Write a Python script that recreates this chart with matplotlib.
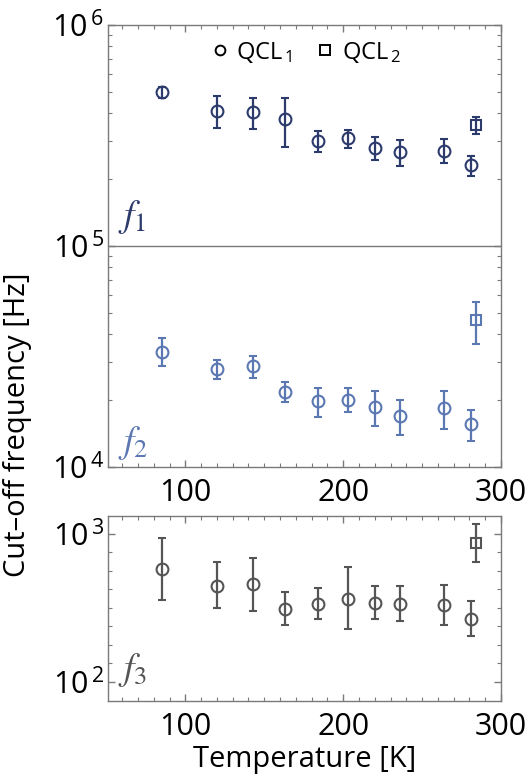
import numpy as np
import matplotlib
matplotlib.use("Agg")
import matplotlib.pyplot as plt
from matplotlib.ticker import FixedLocator, MultipleLocator, LogLocator, FuncFormatter, NullFormatter
from matplotlib.lines import Line2D

plt.rcParams['font.family'] = ['Open Sans', 'DejaVu Sans']
plt.rcParams['mathtext.fontset'] = 'custom'
plt.rcParams['mathtext.rm'] = 'Open Sans'
plt.rcParams['mathtext.it'] = 'Open Sans:italic'
plt.rcParams['mathtext.bf'] = 'Open Sans:bold'

# ---- data ----
T_qcl1 = [85, 120, 143, 163, 184, 203, 220, 236, 264, 281]
T_qcl2 = [284]

f1_qcl1 = [4.95e5, 4.08e5, 4.05e5, 3.74e5, 2.99e5, 3.07e5, 2.77e5, 2.67e5, 2.70e5, 2.33e5]
f1_qcl1_hi = [5.26e5, 4.79e5, 4.69e5, 4.69e5, 3.33e5, 3.35e5, 3.10e5, 3.02e5, 3.05e5, 2.56e5]
f1_qcl1_lo = [4.65e5, 3.41e5, 3.38e5, 2.81e5, 2.66e5, 2.77e5, 2.45e5, 2.31e5, 2.37e5, 2.08e5]
f1_qcl2 = [3.52e5]
f1_qcl2_hi = [3.82e5]
f1_qcl2_lo = [3.20e5]

f2_qcl1 = [3.33e4, 2.77e4, 2.86e4, 2.19e4, 1.98e4, 2.02e4, 1.87e4, 1.71e4, 1.85e4, 1.57e4]
f2_qcl1_hi = [3.82e4, 3.05e4, 3.19e4, 2.43e4, 2.27e4, 2.27e4, 2.21e4, 2.02e4, 2.21e4, 1.82e4]
f2_qcl1_lo = [2.87e4, 2.49e4, 2.54e4, 1.96e4, 1.68e4, 1.77e4, 1.54e4, 1.40e4, 1.48e4, 1.31e4]
f2_qcl2 = [4.62e4]
f2_qcl2_hi = [5.60e4]
f2_qcl2_lo = [3.59e4]

f3_qcl1 = [578, 445, 457, 312, 337, 361, 339, 337, 329, 267]
f3_qcl1_hi = [940, 649, 687, 401, 431, 593, 441, 441, 450, 351]
f3_qcl1_lo = [357, 314, 301, 241, 264, 226, 264, 257, 241, 205]
f3_qcl2 = [865]
f3_qcl2_hi = [1157]
f3_qcl2_lo = [642]

x_ticks = [100, 200, 300]

c1 = '#2c3a6c'
c2 = '#5b78b2'
c3 = '#555555'
frame = '#7a7a7a'

W, H = 527, 778
fig = plt.figure(figsize=(W/100, H/100), dpi=100)

L, R = 108, 501
ax1 = fig.add_axes([L/W, 1-467/H, (R-L)/W, (467-25)/H])
ax2 = fig.add_axes([L/W, 1-701/H, (R-L)/W, (701-516)/H])

def eb(ax, x, y, hi, lo, color, marker):
    y = np.array(y); hi = np.array(hi); lo = np.array(lo)
    ax.errorbar(x, y, yerr=[y-lo, hi-y], fmt=marker, mfc='none', mec=color,
                ecolor=color, color=color, ms=8.5 if marker == 'o' else 7, mew=1.5,
                elinewidth=1.6, capsize=3, capthick=1.6)

eb(ax1, T_qcl1, f1_qcl1, f1_qcl1_hi, f1_qcl1_lo, c1, 'o')
eb(ax1, T_qcl2, f1_qcl2, f1_qcl2_hi, f1_qcl2_lo, c1, 's')
eb(ax1, T_qcl1, f2_qcl1, f2_qcl1_hi, f2_qcl1_lo, c2, 'o')
eb(ax1, T_qcl2, f2_qcl2, f2_qcl2_hi, f2_qcl2_lo, c2, 's')
eb(ax2, T_qcl1, f3_qcl1, f3_qcl1_hi, f3_qcl1_lo, c3, 'o')
eb(ax2, T_qcl2, f3_qcl2, f3_qcl2_hi, f3_qcl2_lo, c3, 's')

ax1.axhline(1e5, color=frame, lw=1.0)

def powfmt(v, pos):
    e = int(round(np.log10(v)))
    return r'$10^{\,%d}$' % e

for ax in (ax1, ax2):
    ax.set_yscale('log')
    ax.set_xlim(51, 300)
    ax.xaxis.set_major_locator(FixedLocator(x_ticks))
    ax.xaxis.set_minor_locator(MultipleLocator(10))
    for s in ax.spines.values():
        s.set_color(frame)
        s.set_linewidth(1.0)
    ax.tick_params(which='both', direction='in', top=True, right=True, color=frame)
    ax.tick_params(which='major', length=5, width=1.0, labelsize=22)
    ax.tick_params(which='minor', length=3, width=0.8)
    ax.tick_params(axis='x', which='major', pad=8)
    ax.tick_params(axis='y', which='major', pad=3)

ax1.set_ylim(1e4, 1e6)
ax1.yaxis.set_major_locator(FixedLocator([1e4, 1e5, 1e6]))
ax1.yaxis.set_minor_locator(LogLocator(base=10, subs=np.arange(2, 10)))
ax1.yaxis.set_minor_formatter(NullFormatter())
ax1.yaxis.set_major_formatter(FuncFormatter(powfmt))

ax2.set_ylim(10**1.87, 10**3.12)
ax2.yaxis.set_major_locator(FixedLocator([1e2, 1e3]))
ax2.yaxis.set_minor_locator(FixedLocator([10**(2 + k/8) for k in range(1, 8)]))
ax2.yaxis.set_minor_formatter(NullFormatter())
ax2.yaxis.set_major_formatter(FuncFormatter(powfmt))

# panel labels
ax1.text(0.025, 0.545, r'$f_{1}$', transform=ax1.transAxes, fontsize=27, color=c1,
         math_fontfamily='stix', ha='left', va='baseline')
ax1.text(0.025, 0.035, r'$f_{2}$', transform=ax1.transAxes, fontsize=27, color=c2,
         math_fontfamily='stix', ha='left', va='baseline')
ax2.text(0.025, 0.12, r'$f_{3}$', transform=ax2.transAxes, fontsize=27, color=c3,
         math_fontfamily='stix', ha='left', va='baseline')

handles = [Line2D([], [], ls='none', marker='o', mfc='none', mec='black', ms=7, mew=1.4),
           Line2D([], [], ls='none', marker='s', mfc='none', mec='black', ms=7, mew=1.4)]
ax1.legend(handles, [r'QCL$_{\,1}$', r'QCL$_{\,2}$'], loc='upper center', ncol=2, frameon=False,
           fontsize=17, handletextpad=0.2, columnspacing=0.9, handlelength=1.0,
           bbox_to_anchor=(0.5, 1.015))

fig.text(0.034, 1-425/H, 'Cut\u2013off frequency [Hz]', rotation=90, fontsize=21,
         ha='center', va='center')
ax2.set_xlabel('Temperature [K]', fontsize=21, labelpad=2)

fig.savefig('out.png', dpi=100)
